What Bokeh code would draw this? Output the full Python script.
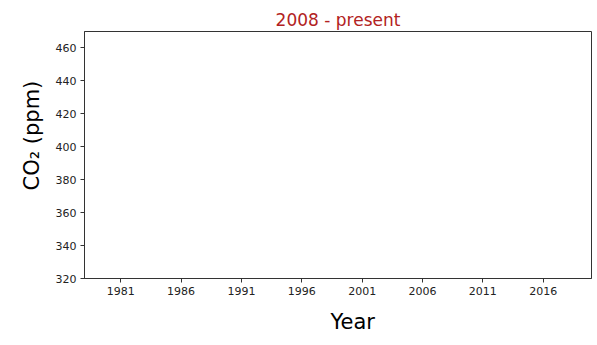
from bokeh.plotting import figure
from bokeh.models import Range1d, FixedTicker, Title
from bokeh.embed import file_html
from bokeh.resources import INLINE

# Data (the chart shows no series: empty axes only)
years = []
co2_ppm = []

x_ticks = [1981, 1986, 1991, 1996, 2001, 2006, 2011, 2016]
y_ticks = [320, 340, 360, 380, 400, 420, 440, 460]
x_limits = (1978, 2020)
y_limits = (320, 470)

title_text = "2008 - present"
x_label = "Year"
y_label = "CO\u2082 (ppm)"

FONT = "DejaVu Sans"

p = figure(width=597, height=345, output_backend="svg", toolbar_location=None,
           x_range=Range1d(*x_limits), y_range=Range1d(*y_limits))
p.min_border_left = 84
p.min_border_right = 6
p.min_border_top = 31
p.min_border_bottom = 67
p.background_fill_color = "white"
p.border_fill_color = "white"
p.outline_line_color = "#333333"
p.outline_line_width = 1

p.line(years, co2_ppm, line_color="#b22222")

p.xgrid.visible = False
p.ygrid.visible = False

for ax in (p.xaxis[0], p.yaxis[0]):
    ax.axis_line_color = "#333333"
    ax.major_tick_line_color = "#333333"
    ax.major_tick_out = 4
    ax.major_tick_in = 0
    ax.minor_tick_out = 0
    ax.minor_tick_in = 0
    ax.major_label_text_font = FONT
    ax.major_label_text_font_size = "11px"
    ax.major_label_text_color = "#222222"
    ax.major_label_standoff = 4

p.xaxis[0].ticker = FixedTicker(ticks=x_ticks)
p.yaxis[0].ticker = FixedTicker(ticks=y_ticks)

p.title.text = title_text
p.title.align = "center"
p.title.text_font = FONT
p.title.text_font_size = "17px"
p.title.text_font_style = "normal"
p.title.text_color = "#b22222"
p.title.standoff = 4

p.add_layout(Title(text=x_label, align="left", offset=246, text_font=FONT,
                   text_font_size="21px", text_font_style="normal",
                   text_line_height=1.0, text_color="black", standoff=20), "below")
p.add_layout(Title(text=y_label, align="left", offset=88, text_font=FONT,
                   text_font_size="21px", text_font_style="normal",
                   text_color="black", standoff=18), "left")

open("out.html", "w").write(file_html(p, INLINE))
